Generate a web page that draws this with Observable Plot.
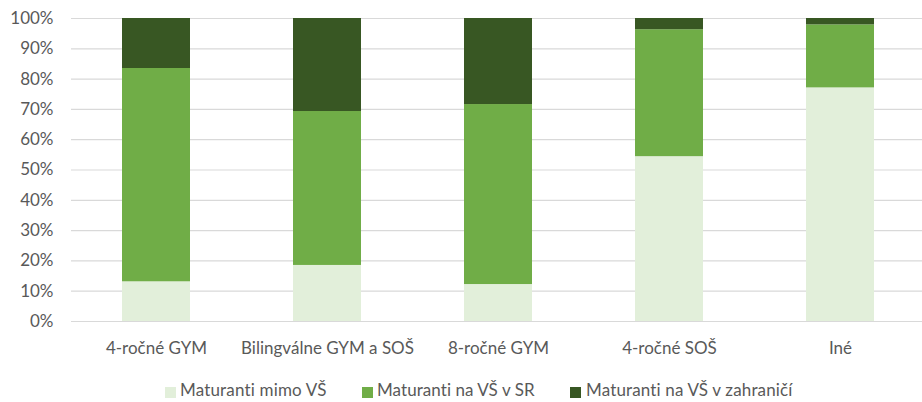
<!DOCTYPE html>
<html>
<head>
<meta charset="utf-8">
<script src="https://cdn.jsdelivr.net/npm/d3@7"></script>
<script src="https://cdn.jsdelivr.net/npm/@observablehq/plot@0.6"></script>
<style>
  html, body { margin: 0; padding: 0; background: #fff; overflow: hidden; }
  body { width: 922px; height: 402px; font-family: Lato, "Liberation Sans", sans-serif; color: #595959; }
  #legend { position: relative; height: 37px; width: 922px; font-size: 17px; line-height: 20px; }
  #legend .sw { position: absolute; width: 11px; height: 11px; top: 22px; }
  #legend .lbl { position: absolute; top: 15px; white-space: nowrap; }
</style>
</head>
<body>
<div id="chart"></div>
<div id="legend"></div>
<script>
const categories = ["4-ročné GYM", "Bilingválne GYM a SOŠ", "8-ročné GYM", "4-ročné SOŠ", "Iné"];
const seriesNames = ["Maturanti mimo VŠ", "Maturanti na VŠ v SR", "Maturanti na VŠ v zahraničí"];
const mimoVS = [13.1, 18.5, 12.2, 54.4, 77.1];
const vsSR = [70.4, 50.8, 59.4, 41.9, 20.8];
const vsZahranicie = [16.5, 30.7, 28.4, 3.7, 2.1];
const colors = ["#E2EFDA", "#70AD47", "#385723"];
const yTicks = [0, 10, 20, 30, 40, 50, 60, 70, 80, 90, 100];

const seriesValues = [mimoVS, vsSR, vsZahranicie];
const data = [];
categories.forEach((c, i) => {
  seriesNames.forEach((s, j) => data.push({category: c, series: s, value: seriesValues[j][i]}));
});

const chart = Plot.plot({
  width: 922,
  height: 365,
  marginLeft: 71,
  marginRight: -4,
  marginTop: 18,
  marginBottom: 44,
  style: {fontFamily: "Lato, 'Liberation Sans', sans-serif", fontSize: "17px", color: "#595959", background: "#fff", overflow: "visible"},
  x: {domain: categories, paddingInner: 0.6, paddingOuter: 0.3, label: null, tickSize: 0, tickPadding: 20},
  y: {domain: [0, 100], ticks: yTicks, tickFormat: d => d + "%", label: null, tickSize: 0, tickPadding: 18},
  color: {domain: seriesNames, range: colors},
  marks: [
    Plot.ruleY(yTicks, {stroke: "#d9d9d9", strokeWidth: 1.2}),
    Plot.barY(data, {x: "category", y: "value", fill: "series", z: "series", order: seriesNames}),
    Plot.axisX({tickSize: 0, tickPadding: 20, fill: "#595959"}),
    Plot.axisY({ticks: yTicks, tickFormat: d => d + "%", tickSize: 0, tickPadding: 18, fill: "#595959"})
  ]
});
document.getElementById("chart").appendChild(chart);

const legend = document.getElementById("legend");
const swatchX = [165, 362, 570];
const labelX = [180, 377, 586];
const labelW = [147, 158, 207];
seriesNames.forEach((s, j) => {
  const sw = document.createElement("span");
  sw.className = "sw";
  sw.style.left = swatchX[j] + "px";
  sw.style.background = colors[j];
  const t = document.createElement("span");
  t.className = "lbl";
  t.style.left = labelX[j] + "px";
  t.textContent = s;
  legend.appendChild(sw);
  legend.appendChild(t);
  const w = t.getBoundingClientRect().width;
  if (w > 0) t.style.letterSpacing = ((labelW[j] - w) / s.length).toFixed(2) + "px";
});
</script>
</body>
</html>
